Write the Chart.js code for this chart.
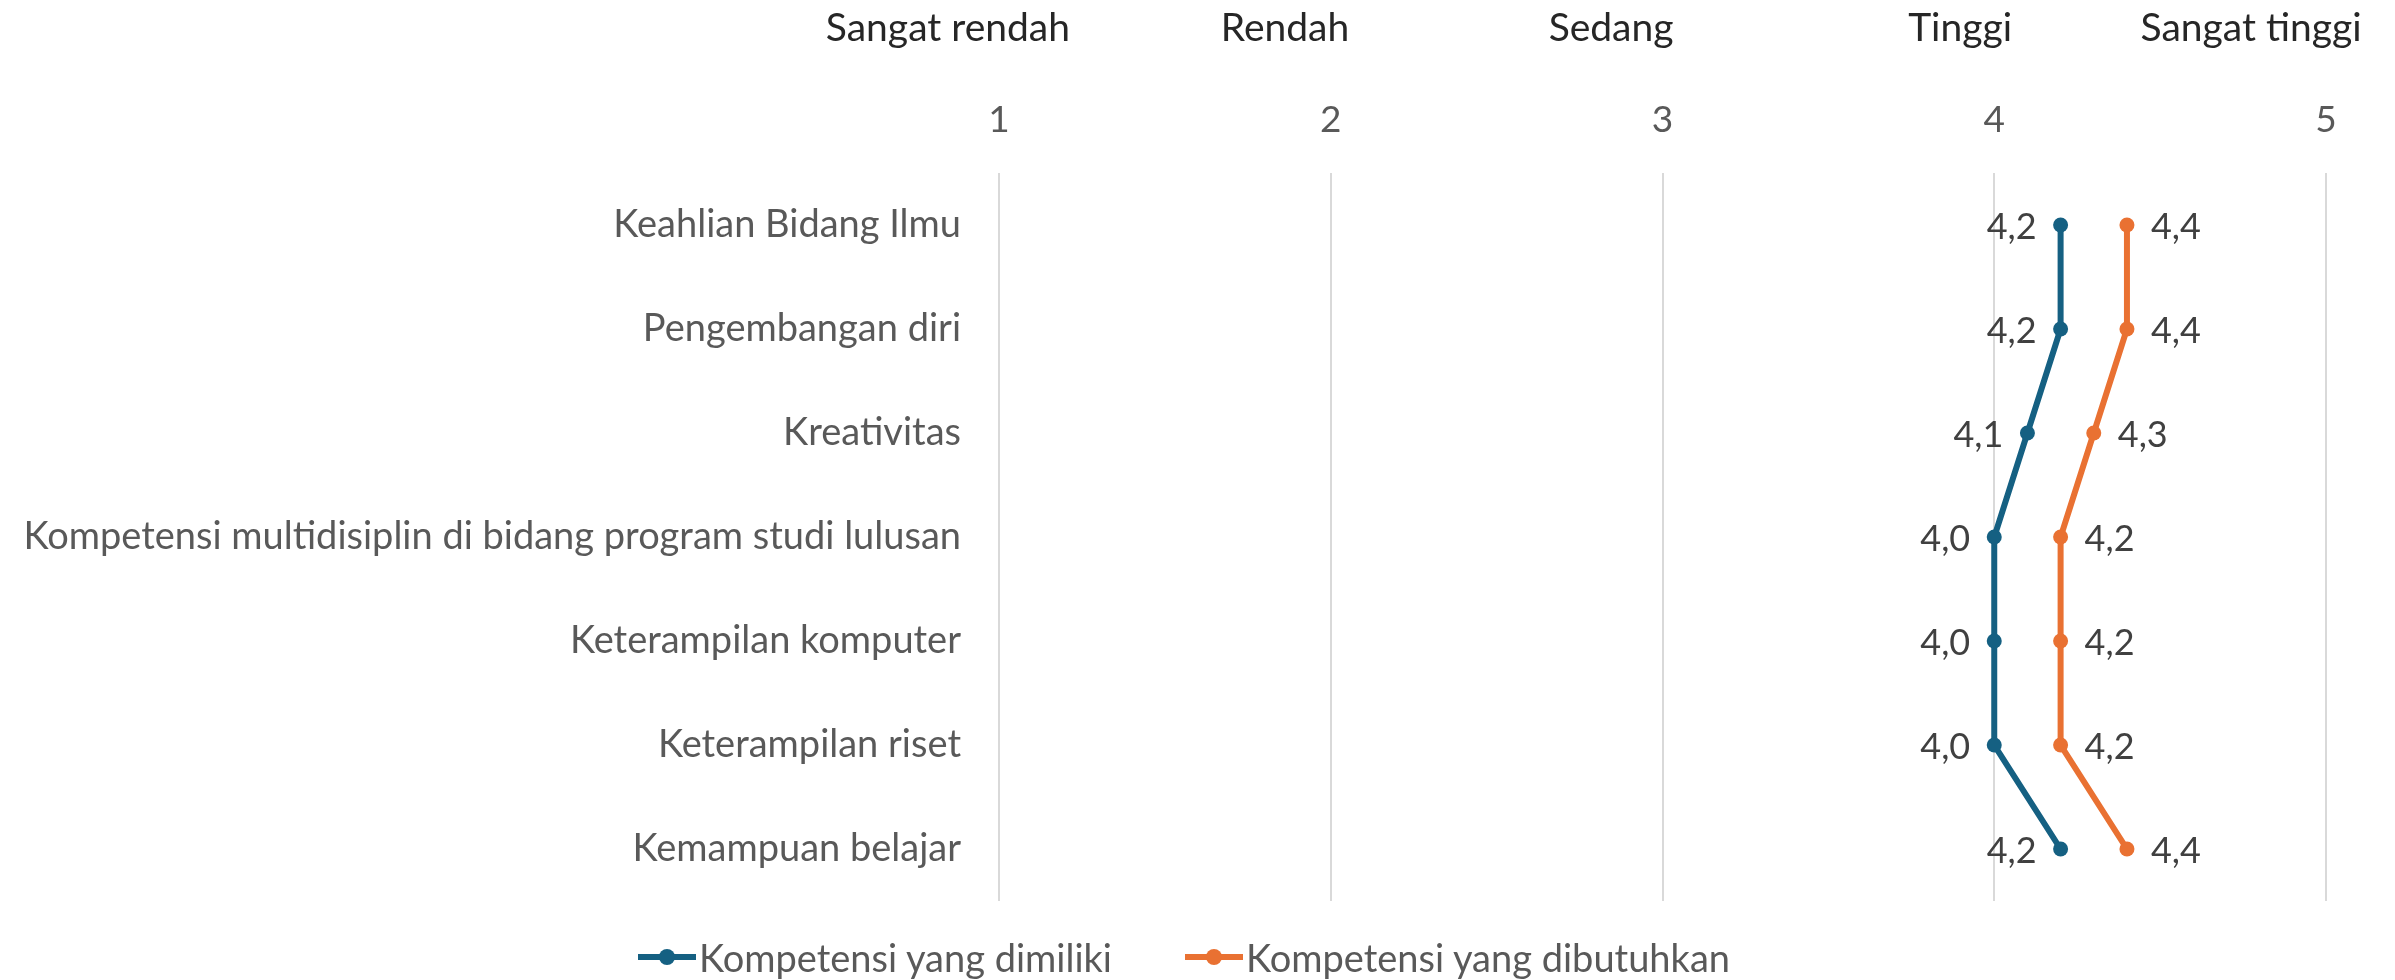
<!DOCTYPE html>
<html>
<head>
<meta charset="utf-8">
<script src="https://cdn.jsdelivr.net/npm/chart.js@4.4.1/dist/chart.umd.min.js"></script>
<style>
    html, body { margin: 0; padding: 0; background: #fff; }
    #wrap { width: 2395px; height: 980px; position: relative; overflow: hidden; }
    #legend {
        position: absolute;
        left: 638px;
        top: 933px;
        display: flex;
        gap: 73px;
        font-family: Lato, sans-serif;
        font-size: 38px;
        line-height: 48px;
        color: #595959;
        white-space: nowrap;
    }
    .legend-item { display: flex; align-items: center; }
    .legend-mark { position: relative; width: 58px; height: 20px; margin-right: 3px; }
    .legend-mark .bar { position: absolute; left: 0; right: 0; top: 7px; height: 6px; }
    .legend-mark .dot { position: absolute; left: 21px; top: 2px; width: 16px; height: 16px; border-radius: 50%; }
</style>
</head>
<body>
<div id="wrap">
    <canvas id="competency-chart"></canvas>
    <div id="legend"></div>
</div>
<script>
const categories = [
    'Keahlian Bidang Ilmu',
    'Pengembangan diri',
    'Kreativitas',
    'Kompetensi multidisiplin di bidang program studi lulusan',
    'Keterampilan komputer',
    'Keterampilan riset',
    'Kemampuan belajar'
];
const ownedValues = [4.2, 4.2, 4.1, 4.0, 4.0, 4.0, 4.2];
const neededValues = [4.4, 4.4, 4.3, 4.2, 4.2, 4.2, 4.4];
const seriesNames = ['Kompetensi yang dimiliki', 'Kompetensi yang dibutuhkan'];
const levelLabels = ['Sangat rendah', 'Rendah', 'Sedang', 'Tinggi', 'Sangat tinggi'];
const scaleTicks = [1, 2, 3, 4, 5];

const FONT = 'Lato';
const BLUE = '#156082';
const ORANGE = '#E97132';

// header words above the numeric ticks (shift is in axis units)
const levelShift = [-0.154, -0.138, -0.155, -0.103, -0.226];
const levelHeaders = {
    id: 'levelHeaders',
    afterDraw(chart) {
        const ctx = chart.ctx;
        const x = chart.scales.x;
        ctx.save();
        ctx.font = `39px ${FONT}`;
        ctx.fillStyle = '#262626';
        ctx.textAlign = 'center';
        ctx.textBaseline = 'middle';
        levelLabels.forEach((txt, i) => {
            ctx.fillText(txt, x.getPixelForValue(scaleTicks[i] + levelShift[i]), 28);
        });
        ctx.restore();
    }
};

// value labels: left of blue points, right of orange points
const valueLabels = {
    id: 'valueLabels',
    afterDatasetsDraw(chart) {
        const ctx = chart.ctx;
        ctx.save();
        ctx.font = `36px ${FONT}`;
        ctx.fillStyle = '#404040';
        ctx.textBaseline = 'middle';
        chart.data.datasets.forEach((ds, i) => {
            const meta = chart.getDatasetMeta(i);
            const onLeft = i === 0;
            ctx.textAlign = onLeft ? 'right' : 'left';
            meta.data.forEach((pt, j) => {
                const txt = ds.data[j].toFixed(1).replace('.', ',');
                ctx.fillText(txt, pt.x + (onLeft ? -24 : 24), pt.y + 2);
            });
        });
        ctx.restore();
    }
};

// HTML legend built from the chart's datasets
function renderLegend(chart) {
    const box = document.getElementById('legend');
    box.innerHTML = '';
    chart.data.datasets.forEach(ds => {
        const item = document.createElement('div');
        item.className = 'legend-item';
        item.innerHTML =
            `<span class="legend-mark"><span class="bar" style="background:${ds.borderColor}"></span>` +
            `<span class="dot" style="background:${ds.borderColor}"></span></span>` +
            `<span>${ds.label}</span>`;
        box.appendChild(item);
    });
}

const ctx = document.getElementById('competency-chart').getContext('2d');

const chart = new Chart(ctx, {
    type: 'line',
    data: {
        labels: categories,
        datasets: [{
            label: seriesNames[0],
            data: ownedValues,
            borderColor: BLUE,
            backgroundColor: BLUE,
            borderWidth: 6,
            pointRadius: 7.5,
            pointBorderWidth: 0,
            pointBackgroundColor: BLUE,
            tension: 0
        }, {
            label: seriesNames[1],
            data: neededValues,
            borderColor: ORANGE,
            backgroundColor: ORANGE,
            borderWidth: 6,
            pointRadius: 7.5,
            pointBorderWidth: 0,
            pointBackgroundColor: ORANGE,
            tension: 0
        }]
    },
    options: {
        indexAxis: 'y',
        responsive: true,
        maintainAspectRatio: false,
        animation: false,
        layout: {
            padding: { left: 0, right: 69, top: 0, bottom: 79 }
        },
        scales: {
            x: {
                type: 'linear',
                position: 'top',
                min: 1,
                max: 5,
                afterBuildTicks: (scale) => {
                    scale.ticks = scaleTicks.map(v => ({ value: v }));
                },
                afterFit: (scale) => {
                    scale.height = 173;
                },
                ticks: {
                    color: '#595959',
                    font: { family: FONT, size: 37 },
                    padding: 31
                },
                grid: {
                    color: '#d9d9d9',
                    lineWidth: 2,
                    drawTicks: false
                },
                border: { display: false }
            },
            y: {
                type: 'category',
                offset: true,
                afterFit: (scale) => {
                    scale.width = 999;
                },
                ticks: {
                    color: '#595959',
                    font: { family: FONT, size: 38 },
                    padding: 30
                },
                grid: { display: false },
                border: { display: false }
            }
        },
        plugins: {
            legend: { display: false },
            tooltip: { enabled: false }
        }
    },
    plugins: [levelHeaders, valueLabels]
});

renderLegend(chart);
</script>
</body>
</html>
